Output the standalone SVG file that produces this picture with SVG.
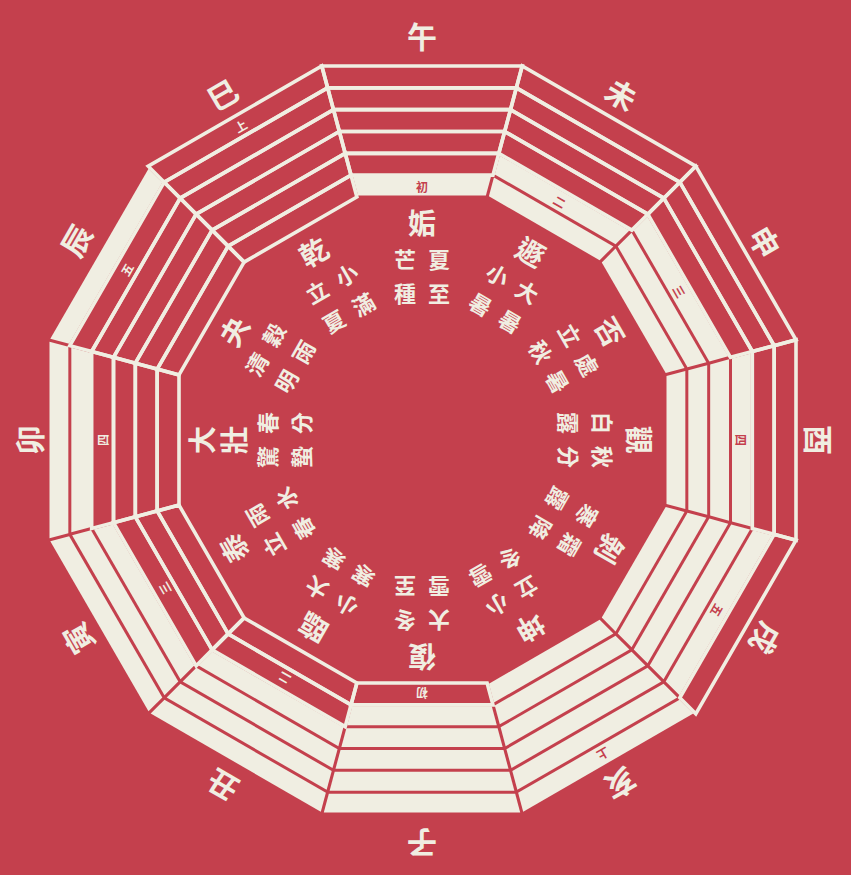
<svg xmlns="http://www.w3.org/2000/svg" width="851" height="875" viewBox="0 0 851 875">
<style>
.bg{fill:#c4404d}
.yin{fill:#f0eee2}
.yang{fill:none;stroke:#f0eee2;stroke-width:3.6;stroke-linejoin:miter}
text{font-family:'Noto Sans CJK TC','Noto Sans CJK SC',sans-serif;fill:#f0eee2;text-anchor:middle;dominant-baseline:central;font-weight:bold}
.br{font-size:30px}
.nm{font-size:28px}
.tm{font-size:22px}
.mk{font-size:12px}
.mr{fill:#c4404d}
</style>
<defs>
<polygon id="yin1" class="yin" points="-63.91,-244.5 63.91,-244.5 68.96,-263.33 -68.96,-263.33"/>
<polygon id="yin2" class="yin" points="-69.76,-266.33 69.76,-266.33 74.81,-285.17 -74.81,-285.17"/>
<polygon id="yin3" class="yin" points="-75.61,-288.17 75.61,-288.17 80.66,-307 -80.66,-307"/>
<polygon id="yin4" class="yin" points="-81.46,-310 81.46,-310 86.51,-328.83 -86.51,-328.83"/>
<polygon id="yin5" class="yin" points="-87.31,-331.83 87.31,-331.83 92.36,-350.67 -92.36,-350.67"/>
<polygon id="yin6" class="yin" points="-93.17,-353.67 93.17,-353.67 98.21,-372.5 -98.21,-372.5"/>
<polygon id="yang1" class="yang" points="-65.11,-243 65.11,-243 70.96,-264.83 -70.96,-264.83"/>
<polygon id="yang2" class="yang" points="-70.96,-264.83 70.96,-264.83 76.81,-286.67 -76.81,-286.67"/>
<polygon id="yang3" class="yang" points="-76.81,-286.67 76.81,-286.67 82.66,-308.5 -82.66,-308.5"/>
<polygon id="yang4" class="yang" points="-82.66,-308.5 82.66,-308.5 88.51,-330.33 -88.51,-330.33"/>
<polygon id="yang5" class="yang" points="-88.51,-330.33 88.51,-330.33 94.36,-352.17 -94.36,-352.17"/>
<polygon id="yang6" class="yang" points="-94.36,-352.17 94.36,-352.17 100.21,-374 -100.21,-374"/>
</defs>
<rect class="bg" x="0" y="0" width="851" height="875"/>

<g id="seg-wu" transform="translate(422,440)">
<use href="#yin1"/><use href="#yang2"/><use href="#yang3"/><use href="#yang4"/><use href="#yang5"/><use href="#yang6"/>
<text class="br" x="0" y="-405">午</text>
<text class="nm" x="0" y="-218">姤</text>
<text class="tm" x="-17" y="-182">芒</text><text class="tm" x="-17" y="-148">種</text>
<text class="tm" x="17" y="-182">夏</text><text class="tm" x="17" y="-148">至</text>
<text class="mk mr" x="0" y="-253.9">初</text>
</g>

<g id="seg-wei" transform="translate(422,440) rotate(30)">
<use href="#yin1"/><use href="#yin2"/><use href="#yang3"/><use href="#yang4"/><use href="#yang5"/><use href="#yang6"/>
<text class="br" x="0" y="-400">未</text>
<text class="nm" x="0" y="-218">遯</text>
<text class="tm" x="-17" y="-182">小</text><text class="tm" x="-17" y="-148">暑</text>
<text class="tm" x="17" y="-182">大</text><text class="tm" x="17" y="-148">暑</text>
<text class="mk mr" x="0" y="-275.75">二</text>
</g>

<g id="seg-shen" transform="translate(422,440) rotate(60)">
<use href="#yin1"/><use href="#yin2"/><use href="#yin3"/><use href="#yang4"/><use href="#yang5"/><use href="#yang6"/>
<text class="br" x="0" y="-397">申</text>
<text class="nm" x="0" y="-218">否</text>
<text class="tm" x="-17" y="-182">立</text><text class="tm" x="-17" y="-148">秋</text>
<text class="tm" x="17" y="-182">處</text><text class="tm" x="17" y="-148">暑</text>
<text class="mk mr" x="0" y="-297.6">三</text>
</g>

<g id="seg-you" transform="translate(422,440) rotate(90)">
<use href="#yin1"/><use href="#yin2"/><use href="#yin3"/><use href="#yin4"/><use href="#yang5"/><use href="#yang6"/>
<text class="br" x="0" y="-398">酉</text>
<text class="nm" x="0" y="-218">觀</text>
<text class="tm" x="-17" y="-182">白</text><text class="tm" x="-17" y="-148">露</text>
<text class="tm" x="17" y="-182">秋</text><text class="tm" x="17" y="-148">分</text>
<text class="mk mr" x="0" y="-319.4">四</text>
</g>

<g id="seg-xu" transform="translate(422,440) rotate(120)">
<use href="#yin1"/><use href="#yin2"/><use href="#yin3"/><use href="#yin4"/><use href="#yin5"/><use href="#yang6"/>
<text class="br" x="0" y="-398">戌</text>
<text class="nm" x="0" y="-218">剝</text>
<text class="tm" x="-17" y="-182">寒</text><text class="tm" x="-17" y="-148">露</text>
<text class="tm" x="17" y="-182">霜</text><text class="tm" x="17" y="-148">降</text>
<text class="mk mr" x="0" y="-341.25">五</text>
</g>

<g id="seg-hai" transform="translate(422,440) rotate(150)">
<use href="#yin1"/><use href="#yin2"/><use href="#yin3"/><use href="#yin4"/><use href="#yin5"/><use href="#yin6"/>
<text class="br" x="0" y="-398">亥</text>
<text class="nm" x="0" y="-218">坤</text>
<text class="tm" x="-17" y="-182">立</text><text class="tm" x="-17" y="-148">冬</text>
<text class="tm" x="17" y="-182">小</text><text class="tm" x="17" y="-148">雪</text>
<text class="mk mr" x="0" y="-363.1">上</text>
</g>

<g id="seg-zi" transform="translate(422,440) rotate(180)">
<use href="#yang1"/><use href="#yin2"/><use href="#yin3"/><use href="#yin4"/><use href="#yin5"/><use href="#yin6"/>
<text class="br" x="0" y="-405">子</text>
<text class="nm" x="0" y="-218">復</text>
<text class="tm" x="-17" y="-182">大</text><text class="tm" x="-17" y="-148">雪</text>
<text class="tm" x="17" y="-182">冬</text><text class="tm" x="17" y="-148">至</text>
<text class="mk" x="0" y="-253.9">初</text>
</g>

<g id="seg-chou" transform="translate(422,440) rotate(210)">
<use href="#yang1"/><use href="#yang2"/><use href="#yin3"/><use href="#yin4"/><use href="#yin5"/><use href="#yin6"/>
<text class="br" x="0" y="-400">丑</text>
<text class="nm" x="0" y="-218">臨</text>
<text class="tm" x="-17" y="-182">小</text><text class="tm" x="-17" y="-148">寒</text>
<text class="tm" x="17" y="-182">大</text><text class="tm" x="17" y="-148">寒</text>
<text class="mk" x="0" y="-275.75">二</text>
</g>

<g id="seg-yin" transform="translate(422,440) rotate(240)">
<use href="#yang1"/><use href="#yang2"/><use href="#yang3"/><use href="#yin4"/><use href="#yin5"/><use href="#yin6"/>
<text class="br" x="0" y="-398">寅</text>
<text class="nm" x="0" y="-218">泰</text>
<text class="tm" x="-17" y="-182">立</text><text class="tm" x="-17" y="-148">春</text>
<text class="tm" x="17" y="-182">雨</text><text class="tm" x="17" y="-148">水</text>
<text class="mk" x="0" y="-297.6">三</text>
</g>

<g id="seg-mao" transform="translate(422,440) rotate(270)">
<use href="#yang1"/><use href="#yang2"/><use href="#yang3"/><use href="#yang4"/><use href="#yin5"/><use href="#yin6"/>
<text class="br" x="0" y="-394">卯</text>
<text class="nm" x="0" y="-221">大</text><text class="nm" x="0" y="-189">壯</text>
<text class="tm" x="-17" y="-156">驚</text><text class="tm" x="-17" y="-122">蟄</text>
<text class="tm" x="17" y="-156">春</text><text class="tm" x="17" y="-122">分</text>
<text class="mk" x="0" y="-319.4">四</text>
</g>

<g id="seg-chen" transform="translate(422,440) rotate(300)">
<use href="#yang1"/><use href="#yang2"/><use href="#yang3"/><use href="#yang4"/><use href="#yang5"/><use href="#yin6"/>
<text class="br" x="0" y="-400">辰</text>
<text class="nm" x="0" y="-218">夬</text>
<text class="tm" x="-17" y="-182">清</text><text class="tm" x="-17" y="-148">明</text>
<text class="tm" x="17" y="-182">穀</text><text class="tm" x="17" y="-148">雨</text>
<text class="mk" x="0" y="-341.25">五</text>
</g>

<g id="seg-si" transform="translate(422,440) rotate(330)">
<use href="#yang1"/><use href="#yang2"/><use href="#yang3"/><use href="#yang4"/><use href="#yang5"/><use href="#yang6"/>
<text class="br" x="0" y="-400">巳</text>
<text class="nm" x="0" y="-218">乾</text>
<text class="tm" x="-17" y="-182">立</text><text class="tm" x="-17" y="-148">夏</text>
<text class="tm" x="17" y="-182">小</text><text class="tm" x="17" y="-148">滿</text>
<text class="mk" x="0" y="-363.1">上</text>
</g>

<g id="connectors"></g>
</svg>
